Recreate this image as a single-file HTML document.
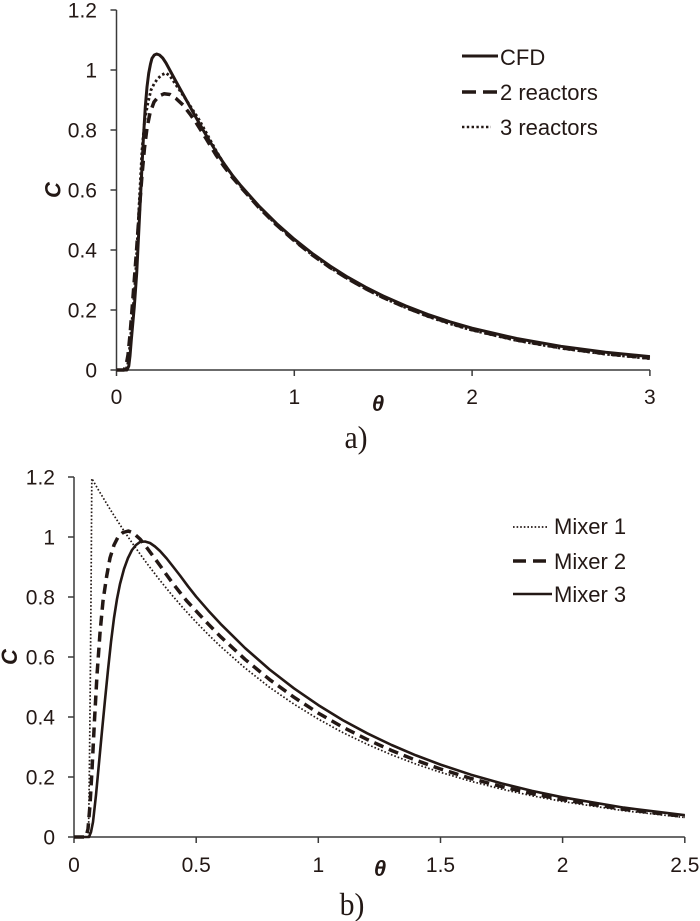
<!DOCTYPE html>
<html>
<head>
<meta charset="utf-8">
<style>
  html, body { margin: 0; padding: 0; background: #ffffff; }
  svg { display: block; }
  text { fill: #231815; font-family: "Liberation Sans", Arial, sans-serif; }
  .tick { font-size: 21px; }
  .leg { font-size: 22px; }
  .axl { font-size: 22px; font-weight: bold; font-style: italic; }
  .cap { font-family: "Liberation Serif", "Times New Roman", serif; font-size: 32px; }
</style>
</head>
<body>
<svg width="700" height="921" viewBox="0 0 700 921" xmlns="http://www.w3.org/2000/svg">
  <rect x="0" y="0" width="700" height="921" fill="#ffffff"/>

  <!-- ================= TOP CHART (a) ================= -->
  <g stroke="#3a3a3a" stroke-width="1.5" fill="none">
    <line x1="116.5" y1="10" x2="116.5" y2="370"/>
    <line x1="116.5" y1="370" x2="650" y2="370"/>
    <line x1="110.5" y1="10" x2="116.5" y2="10"/>
    <line x1="110.5" y1="70" x2="116.5" y2="70"/>
    <line x1="110.5" y1="130" x2="116.5" y2="130"/>
    <line x1="110.5" y1="190" x2="116.5" y2="190"/>
    <line x1="110.5" y1="250" x2="116.5" y2="250"/>
    <line x1="110.5" y1="310" x2="116.5" y2="310"/>
    <line x1="110.5" y1="370" x2="116.5" y2="370"/>
    <line x1="116.5" y1="370" x2="116.5" y2="376"/>
    <line x1="294.3" y1="370" x2="294.3" y2="376"/>
    <line x1="472.1" y1="370" x2="472.1" y2="376"/>
    <line x1="649.9" y1="370" x2="649.9" y2="376"/>
  </g>
  <g class="tick" text-anchor="end">
    <text x="97" y="17.5">1.2</text>
    <text x="97" y="77.5">1</text>
    <text x="97" y="137.5">0.8</text>
    <text x="97" y="197.5">0.6</text>
    <text x="97" y="257.5">0.4</text>
    <text x="97" y="317.5">0.2</text>
    <text x="97" y="377.5">0</text>
  </g>
  <g class="tick" text-anchor="middle">
    <text x="116.5" y="404">0</text>
    <text x="294.3" y="404">1</text>
    <text x="472.1" y="404">2</text>
    <text x="649.9" y="404">3</text>
  </g>
  <text class="axl" text-anchor="middle" transform="translate(52.5,190) rotate(-90)" y="8">C</text>
  <text class="axl" text-anchor="middle" x="378" y="411">θ</text>
  <text class="cap" text-anchor="middle" transform="translate(356,448) scale(0.93,1)">a)</text>

  <!-- curves top -->
  <g fill="none" stroke="#231815" stroke-linejoin="round">
    <!-- 3 reactors dotted -->
    <polyline stroke-width="2.8" stroke-dasharray="2.5 2.5" points="116.5,370 125.5,370 127.5,366 129,356 130.3,340 133.3,306.7 135.7,273.3 139,206.7 142,150 144.5,122 147.7,104 151,90 154,84 157,79.5 161.5,75 166,73 170,76 176,85 186,99.5 199.3,120 216,150.5 223.2,162.5 232,175 241,186.9 258.7,207 276.5,224.8 294.3,240.7 312.1,254.8 329.9,267.4 347.6,278.8 365.4,288.8 383.2,297.8 405.4,307.5 427.7,316.4 449.9,323.8 472.1,330.2 516.6,340.5 561,348.3 605.5,354.2 649.9,358.6"/>
    <!-- 2 reactors dashed -->
    <polyline stroke-width="3.5" stroke-dasharray="10 6" points="116.5,370 124,370 126,366 128,355 130,335 132,310 134.3,280 136.7,248 139.5,208 142,175 144.5,148 147,128 150,113 154,102 159,96 164,93.8 170,94.5 176,98.5 183,105 190,114 196,122.5 206,138.5 216,155 223.2,165.3 232,177 241,187.4 258.7,207.3 276.5,225 294.3,240.7 312.1,254.8 329.9,267.4 347.6,278.6 365.4,288.6 383.2,297.5 405.4,307.3 427.7,315.9 449.9,323.1 472.1,329.7 516.6,340 561,347.8 605.5,353.7 649.9,358.1"/>
    <!-- CFD solid -->
    <polyline stroke-width="3" points="116.5,370 127,370 128.8,366 130,356 131.3,340 134.3,306.7 136.7,273.3 140,206.7 143.3,140 145.3,106.7 147,87 148.7,73.3 150.5,64 152,58.3 154.3,55 156.7,54 159.5,55 162.7,58 166,63 169.5,69.5 176,81.5 186,99.5 196,117.5 206,135 216,151.5 223.2,162.5 232,174.8 241,185.9 258.7,205.8 276.5,223.5 294.3,239.2 312.1,253.3 329.9,265.9 347.6,277.1 365.4,287.1 383.2,296 405.4,305.8 427.7,314.4 449.9,321.8 472.1,328.2 516.6,338.5 561,346.3 605.5,352.2 649.9,356.6"/>
  </g>

  <!-- legend top -->
  <g fill="none" stroke="#231815">
    <line x1="462" y1="56" x2="498" y2="56" stroke-width="3"/>
    <path d="M462 92 h14 M483 92 h14" stroke-width="3.5"/>
    <line x1="462" y1="127" x2="491" y2="127" stroke-width="2.6" stroke-dasharray="2.4 2.4"/>
  </g>
  <g class="leg">
    <text x="500" y="65">CFD</text>
    <text x="500" y="100">2 reactors</text>
    <text x="500" y="135">3 reactors</text>
  </g>

  <!-- ================= BOTTOM CHART (b) ================= -->
  <g stroke="#3a3a3a" stroke-width="1.5" fill="none">
    <line x1="74" y1="477" x2="74" y2="837"/>
    <line x1="74" y1="837" x2="684.8" y2="837"/>
    <line x1="68" y1="477" x2="74" y2="477"/>
    <line x1="68" y1="537" x2="74" y2="537"/>
    <line x1="68" y1="597" x2="74" y2="597"/>
    <line x1="68" y1="657" x2="74" y2="657"/>
    <line x1="68" y1="717" x2="74" y2="717"/>
    <line x1="68" y1="777" x2="74" y2="777"/>
    <line x1="68" y1="837" x2="74" y2="837"/>
    <line x1="74" y1="837" x2="74" y2="843"/>
    <line x1="196.2" y1="837" x2="196.2" y2="843"/>
    <line x1="318.3" y1="837" x2="318.3" y2="843"/>
    <line x1="440.5" y1="837" x2="440.5" y2="843"/>
    <line x1="562.6" y1="837" x2="562.6" y2="843"/>
    <line x1="684.8" y1="837" x2="684.8" y2="843"/>
  </g>
  <g class="tick" text-anchor="end">
    <text x="55" y="484.5">1.2</text>
    <text x="55" y="544.5">1</text>
    <text x="55" y="604.5">0.8</text>
    <text x="55" y="664.5">0.6</text>
    <text x="55" y="724.5">0.4</text>
    <text x="55" y="784.5">0.2</text>
    <text x="55" y="844.5">0</text>
  </g>
  <g class="tick" text-anchor="middle">
    <text x="74" y="872">0</text>
    <text x="196.2" y="872">0.5</text>
    <text x="318.3" y="872">1</text>
    <text x="440.5" y="872">1.5</text>
    <text x="562.6" y="872">2</text>
    <text x="684.8" y="872">2.5</text>
  </g>
  <text class="axl" text-anchor="middle" transform="translate(9,657) rotate(-90)" y="8">C</text>
  <text class="axl" text-anchor="middle" x="380" y="876">θ</text>
  <text class="cap" text-anchor="middle" transform="translate(352,915) scale(0.93,1)">b)</text>

  <!-- curves bottom -->
  <g fill="none" stroke="#231815" stroke-linejoin="round">
    <!-- Mixer 1 dotted -->
    <polyline stroke-width="1.7" stroke-dasharray="1.6 2" points="74,837 88.5,837 89.5,760 90.5,660 91.2,570 91.8,478.5 98.4,489.9 104.5,500 110.6,510.1 116.7,519.7 122.9,529.2 129,538.3 135.1,547.1 141.2,555.6 147.3,563.9 159.5,579.8 171.7,594.8 184,609 196.2,622.2 208.4,634.7 220.6,646.5 245,668 269.4,687.2 293.9,704.1 318.3,719.1 342.7,732.5 367.2,744.3 391.6,754.8 416,764.1 440.5,772.3 471,781.3 501.5,789.1 532,795.8 562.6,801.5 623.7,810.7 684.8,817.5"/>
    <!-- Mixer 2 dashed -->
    <polyline stroke-width="3.5" stroke-dasharray="10 6" points="74,837 86,837 88,829 90,805 92,770 94.5,720 97,675 100,633 103,601 106.7,576 110,558 114,545 118.3,536.5 123,532.5 128.3,531 133,532.8 140,539 146.7,547.5 153,556 160,565.5 166.7,575 173.3,584 180,592.5 186.4,600.5 196.2,611.1 208.4,624.2 220.6,636.7 245,659.3 269.4,679.4 293.9,697.2 318.3,713.1 342.7,727.1 367.2,739.5 391.6,750.5 416,760.3 440.5,769 471,778.5 501.5,786.6 532,793.6 562.6,799.7 623.7,809.3 684.8,816.5"/>
    <!-- Mixer 3 solid -->
    <polyline stroke-width="2.6" points="74,837 89,837 91,832 93,822 96,795 99,763 102,731 105,700 108,670 111,642 114,618 117,599 120,584 124,569 128,558 132,550 136,545 140,542 145,541.5 150,543 155,546.5 160,551 166.7,558.5 173,566.5 180,575.5 188,586.3 196.2,596.7 208.4,610.7 220.6,623.9 245,648 269.4,669.4 293.9,688.3 318.3,705.1 342.7,720.1 367.2,733.3 391.6,745 416,755.4 440.5,764.6 471,774.7 501.5,783.4 532,790.9 562.6,797.3 623.7,807.6 684.8,815.2"/>
  </g>

  <!-- legend bottom -->
  <g fill="none" stroke="#231815">
    <line x1="513" y1="527" x2="549" y2="527" stroke-width="1.7" stroke-dasharray="1.6 2"/>
    <path d="M513 561 h13 M533 561 h13" stroke-width="3.5"/>
    <line x1="513" y1="594" x2="552" y2="594" stroke-width="2.6"/>
  </g>
  <g class="leg">
    <text x="554" y="534">Mixer 1</text>
    <text x="554" y="569">Mixer 2</text>
    <text x="554" y="602">Mixer 3</text>
  </g>
</svg>
</body>
</html>
